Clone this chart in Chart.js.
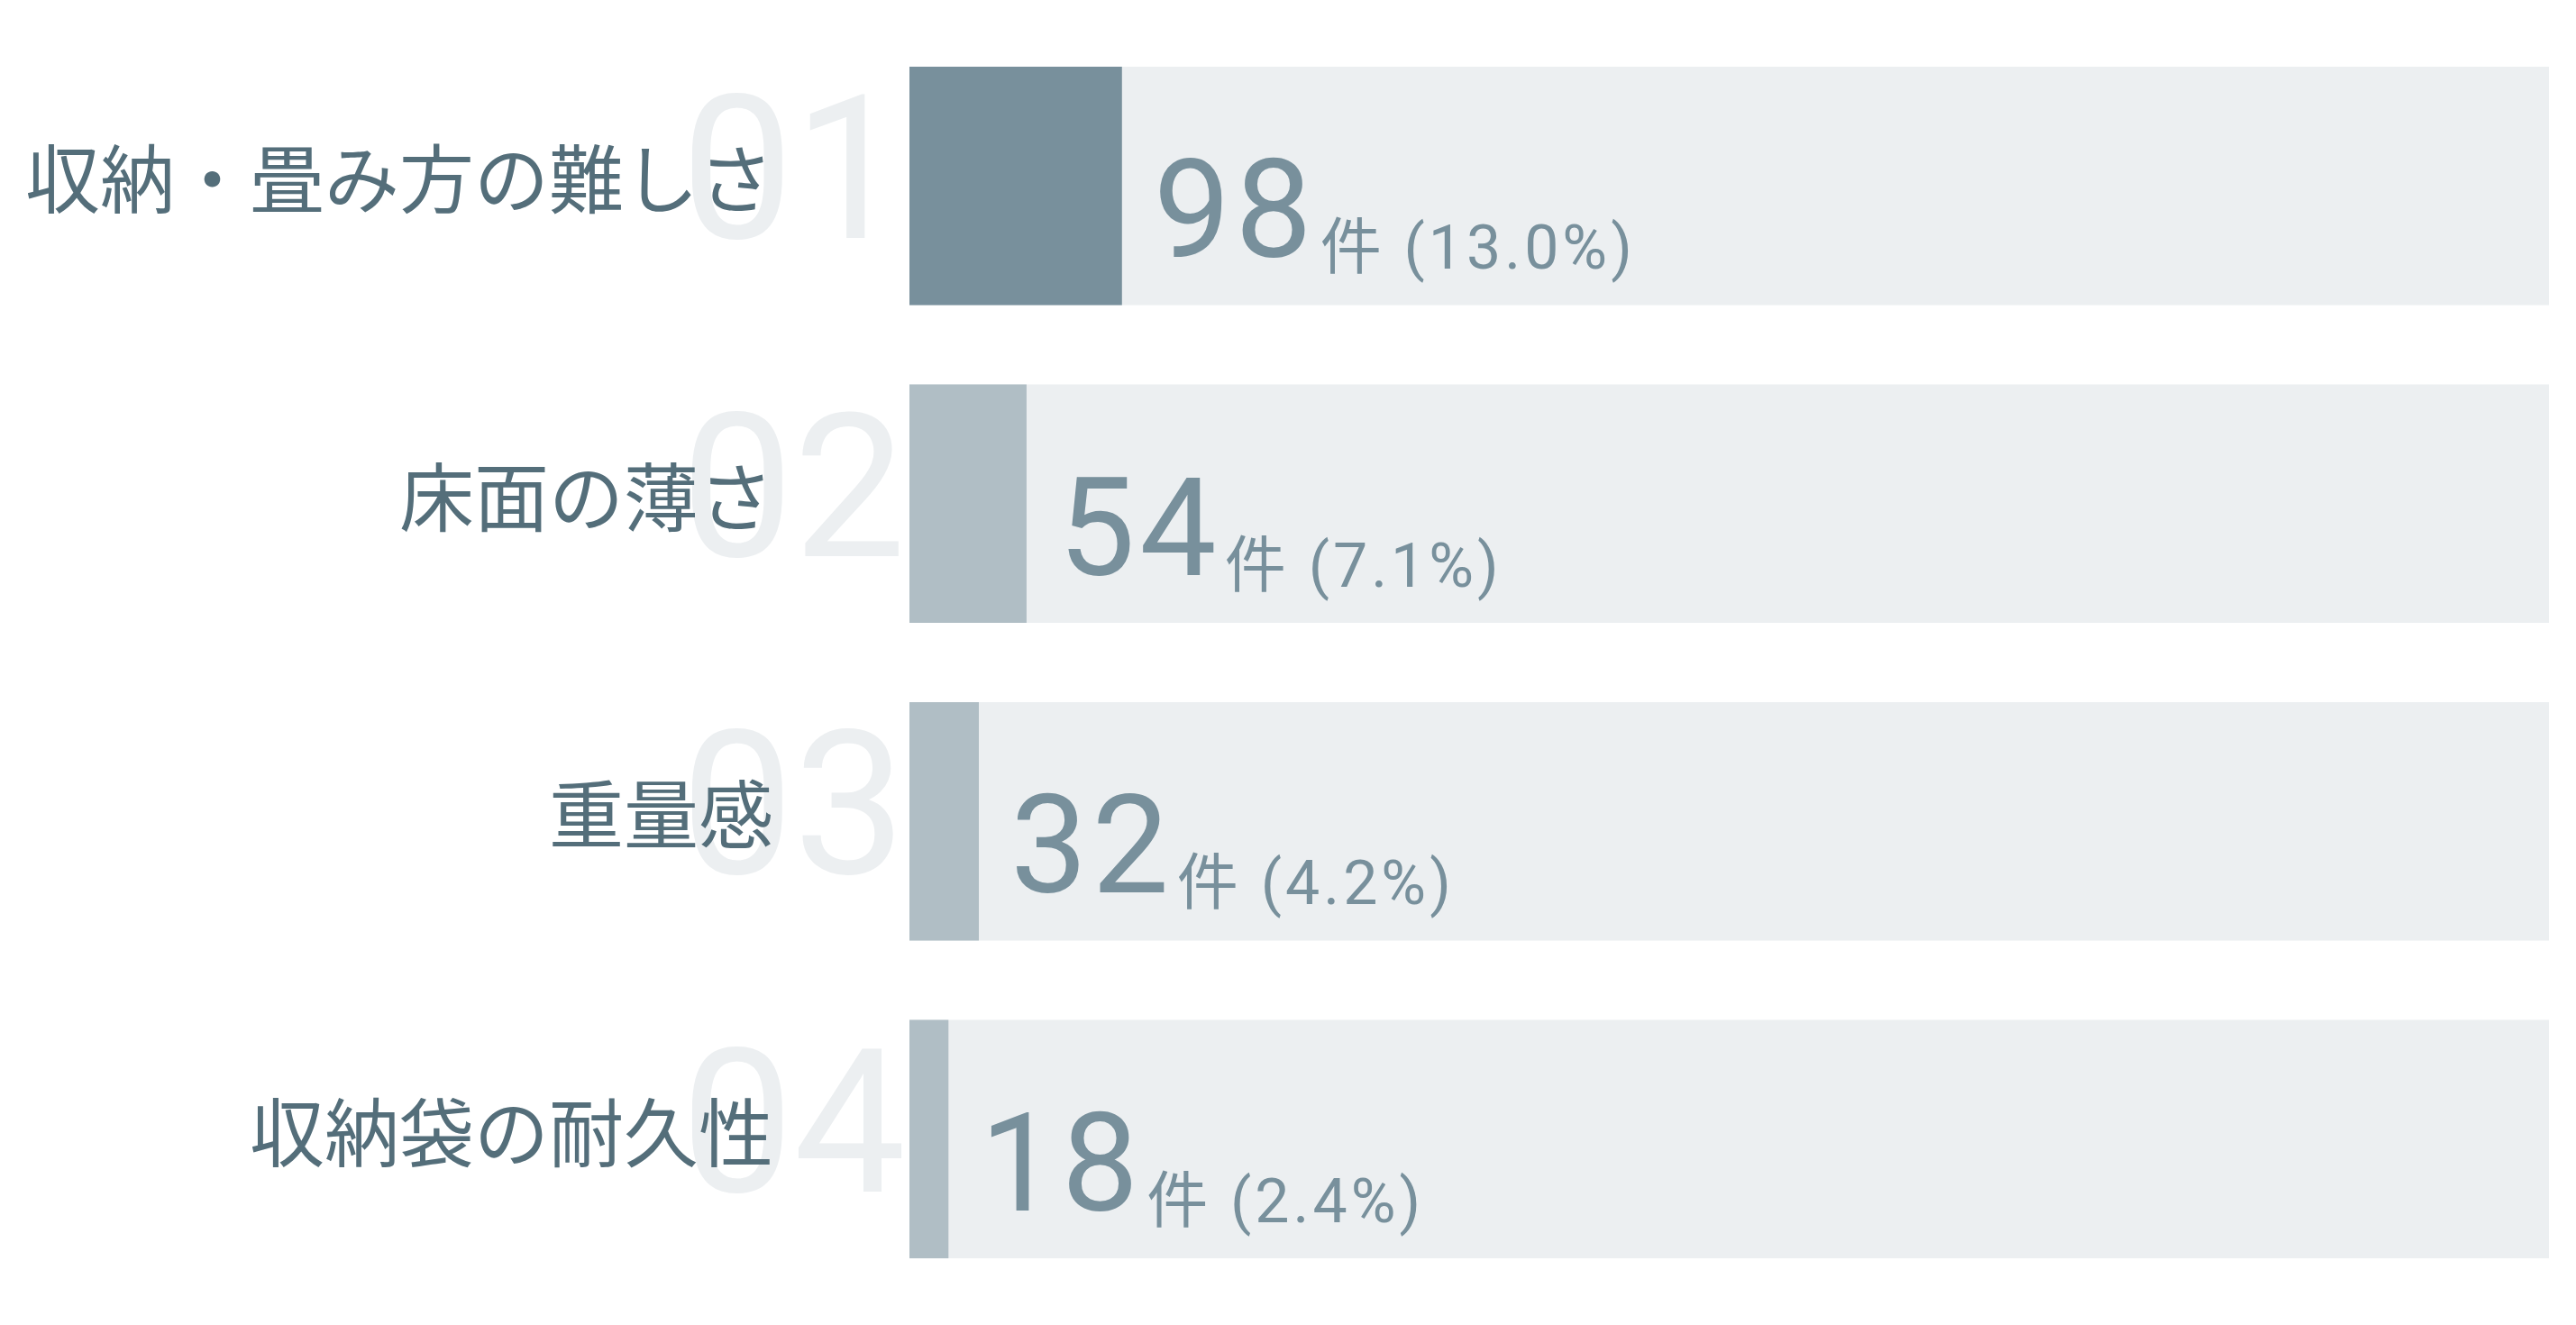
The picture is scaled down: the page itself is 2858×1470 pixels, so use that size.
<!DOCTYPE html>
<html lang="ja">
<head>
<meta charset="utf-8">
<title>不満点ランキング</title>
<script src="https://cdn.jsdelivr.net/npm/chart.js@4.4.1/dist/chart.umd.min.js"></script>
<style>
    html, body { margin: 0; padding: 0; background: #ffffff; }
    #wrap { width: 2858px; height: 1470px; }
</style>
</head>
<body>
<div id="wrap"><canvas id="rankingChart" width="2858" height="1470"></canvas></div>
<script>
// データ
const categories = ['収納・畳み方の難しさ', '床面の薄さ', '重量感', '収納袋の耐久性'];
const counts = [98, 54, 32, 18];
const percents = ['13.0', '7.1', '4.2', '2.4'];
const rankLabels = ['01', '02', '03', '04'];
const totalCount = 756;
const unitLabel = '件';

const FONT_JP = '"Noto Sans CJK JP", "Noto Sans", sans-serif';
const FONT_NUM = 'Roboto, "Noto Sans CJK JP", sans-serif';
const COLOR_LABEL = '#546E7A';
const COLOR_VALUE = '#78909C';
const COLOR_TOP = '#78909C';
const COLOR_BAR = '#B0BEC5';
const COLOR_TRACK = '#ECEFF1';
const COLOR_GHOST = '#ECEFF1';

// 番号・項目名・件数をバーの横に描く
const rankingTextPlugin = {
    id: 'rankingText',
    afterDatasetsDraw(chart) {
        const ctx = chart.ctx;
        const xScale = chart.scales.x;
        const yScale = chart.scales.y;
        const left = chart.chartArea.left;

        ctx.save();
        categories.forEach((name, i) => {
            const cy = yScale.getPixelForValue(i);
            ctx.letterSpacing = '0px';

            // 薄い大きな順位番号
            ctx.font = '400 222px ' + FONT_NUM;
            ctx.fillStyle = COLOR_GHOST;
            ctx.textAlign = 'right';
            ctx.textBaseline = 'alphabetic';
            ctx.fillText(rankLabels[i], left - 4, cy + 58);

            // 項目名
            ctx.font = '400 83px ' + FONT_JP;
            ctx.fillStyle = COLOR_LABEL;
            ctx.fillText(name, 858, cy + 24);

            // 件数
            const endX = xScale.getPixelForValue(counts[i]);
            const numX = endX + 35;
            ctx.textAlign = 'left';
            ctx.font = '400 152px ' + FONT_NUM;
            ctx.letterSpacing = '5px';
            ctx.fillStyle = COLOR_VALUE;
            const numText = String(counts[i]);
            ctx.fillText(numText, numX, cy + 79);
            const numW = ctx.measureText(numText).width;

            ctx.font = '400 68px ' + FONT_NUM;
            ctx.letterSpacing = '4px';
            ctx.fillText(unitLabel + ' (' + percents[i] + '%)', numX + numW + 4, cy + 92);
        });
        ctx.restore();
    }
};

new Chart(document.getElementById('rankingChart').getContext('2d'), {
    type: 'bar',
    data: {
        labels: categories,
        datasets: [
            {
                label: '件数',
                data: counts,
                backgroundColor: counts.map((v, i) => i === 0 ? COLOR_TOP : COLOR_BAR),
                borderWidth: 0,
                order: 0
            },
            {
                label: '全体',
                data: categories.map(() => totalCount),
                backgroundColor: COLOR_TRACK,
                borderWidth: 0,
                order: 1
            }
        ]
    },
    options: {
        indexAxis: 'y',
        responsive: false,
        animation: false,
        devicePixelRatio: 1,
        layout: { padding: { left: 1009, right: 30, top: 30, bottom: 30 } },
        datasets: {
            bar: { grouped: false, categoryPercentage: 0.75, barPercentage: 1 }
        },
        plugins: {
            legend: { display: false },
            tooltip: { enabled: false }
        },
        scales: {
            x: { display: false, min: 0, max: totalCount },
            y: { display: false }
        }
    },
    plugins: [rankingTextPlugin]
});
</script>
</body>
</html>
